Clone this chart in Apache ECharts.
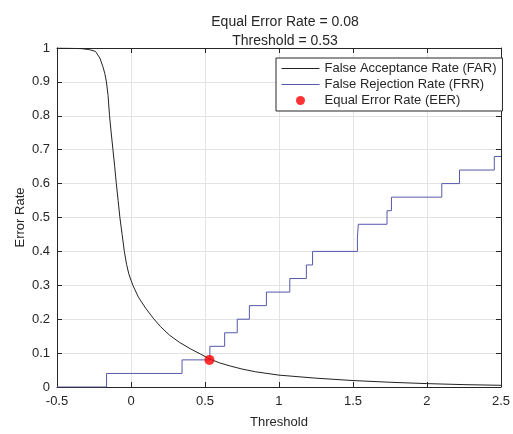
<!DOCTYPE html>
<html>
<head>
<meta charset="utf-8">
<script src="https://cdn.jsdelivr.net/npm/echarts@6/dist/echarts.min.js"></script>
<style>
  html, body { margin: 0; padding: 0; background: #fff; }
  #chart { width: 513px; height: 434px; }
</style>
</head>
<body>
<div id="chart"></div>
<script>
// FAR curve
const farX = [-0.5, -0.4, -0.33, -0.28, -0.24, -0.21, -0.19, -0.177, -0.166, -0.155, -0.145, -0.135, -0.122, -0.11, -0.099, -0.087, -0.075, -0.06, -0.045, -0.03, -0.015, 0.0, 0.013, 0.05, 0.1, 0.15, 0.2, 0.26, 0.33, 0.4, 0.47, 0.53, 0.6, 0.67, 0.75, 0.84, 1.0, 1.25, 1.5, 1.75, 2.0, 2.25, 2.5]
const farY = [1.0, 0.999, 0.998, 0.995, 0.99, 0.97, 0.945, 0.925, 0.9, 0.86, 0.8, 0.755, 0.7, 0.65, 0.6, 0.55, 0.5, 0.45, 0.4, 0.362, 0.334, 0.315, 0.3, 0.265, 0.232, 0.203, 0.178, 0.153, 0.131, 0.113, 0.097, 0.083, 0.071, 0.062, 0.053, 0.045, 0.035, 0.026, 0.019, 0.014, 0.01, 0.007, 0.005]

// FRR step function: value from each breakpoint on
const frrX = [-0.5, -0.165, 0.345, 0.533, 0.633, 0.718, 0.8, 0.915, 1.073, 1.185, 1.227, 1.53, 1.536, 1.73, 1.76, 2.1, 2.22, 2.455, 2.5]
const frrY = [0, 0.04, 0.08, 0.12, 0.16, 0.2, 0.24, 0.28, 0.32, 0.36, 0.4, 0.44, 0.48, 0.52, 0.56, 0.6, 0.64, 0.68, 0.68]

const eer = [0.53, 0.08]
const titleLines = ['Equal Error Rate = 0.08', 'Threshold = 0.53']
const seriesNames = ['False Acceptance Rate (FAR)', 'False Rejection Rate (FRR)', 'Equal Error Rate (EER)']

const font = 'Liberation Sans, Arial, Helvetica, sans-serif'
const chart = echarts.init(document.getElementById('chart'))

const frame = { show: true, onZero: false, lineStyle: { color: '#262626', width: 1 } }
const ticks = { show: true, inside: true, length: 5, lineStyle: { color: '#262626' } }
const grid = { show: true, lineStyle: { color: '#e3e3e3', width: 1 } }

chart.setOption({
  animation: false,
  textStyle: { fontFamily: font },
  title: {
    text: titleLines.join('\n'),
    left: 280,
    top: 8,
    textAlign: 'center',
    textStyle: { fontSize: 14, fontWeight: 'normal', color: '#262626', lineHeight: 19, fontFamily: font }
  },
  grid: { left: 57, right: 10, top: 48, bottom: 42, show: false },
  legend: {
    orient: 'vertical',
    left: 276,
    top: 58,
    padding: [4, 6, 4, 5],
    itemGap: 3,
    itemWidth: 38,
    itemHeight: 9,
    borderColor: '#262626',
    borderWidth: 1,
    backgroundColor: '#fff',
    textStyle: { fontSize: 13, color: '#262626', fontFamily: font },
    data: [
      { name: seriesNames[0], itemStyle: { opacity: 0 }, lineStyle: { width: 1 } },
      { name: seriesNames[1], itemStyle: { opacity: 0 }, lineStyle: { width: 1 } },
      { name: seriesNames[2] }
    ]
  },
  xAxis: [{
    type: 'value', min: -0.5, max: 2.5, interval: 0.5,
    name: 'Threshold', nameLocation: 'middle', nameGap: 29,
    nameTextStyle: { fontSize: 13, color: '#262626' },
    axisLine: frame, axisTick: ticks, splitLine: grid,
    axisLabel: { fontSize: 13, color: '#262626', margin: 8 }
  }, {
    type: 'value', position: 'top', min: -0.5, max: 2.5, interval: 0.5,
    axisLine: frame, axisTick: ticks, splitLine: { show: false }, axisLabel: { show: false }
  }],
  yAxis: [{
    type: 'value', min: 0, max: 1, interval: 0.1,
    name: 'Error Rate', nameLocation: 'middle', nameGap: 30, nameMoveOverlap: false,
    nameTextStyle: { fontSize: 13, color: '#262626' },
    axisLine: frame, axisTick: ticks, splitLine: grid,
    axisLabel: { fontSize: 13, color: '#262626', margin: 7 }
  }, {
    type: 'value', position: 'right', min: 0, max: 1, interval: 0.1,
    axisLine: frame, axisTick: ticks, splitLine: { show: false }, axisLabel: { show: false }
  }],
  series: [{
    name: seriesNames[0],
    type: 'line',
    data: farX.map((x, i) => [x, farY[i]]),
    symbol: 'none',
    lineStyle: { color: '#222', width: 1 },
    itemStyle: { color: '#222' },
    z: 3
  }, {
    name: seriesNames[1],
    type: 'line',
    step: 'end',
    data: frrX.map((x, i) => [x, frrY[i]]),
    symbol: 'none',
    lineStyle: { color: '#5559aa', width: 1 },
    itemStyle: { color: '#5559aa' },
    z: 2
  }, {
    name: seriesNames[2],
    type: 'scatter',
    data: [eer],
    symbol: 'circle',
    symbolSize: 10,
    itemStyle: { color: '#ff0000' },
    z: 5
  }]
})
</script>
</body>
</html>
